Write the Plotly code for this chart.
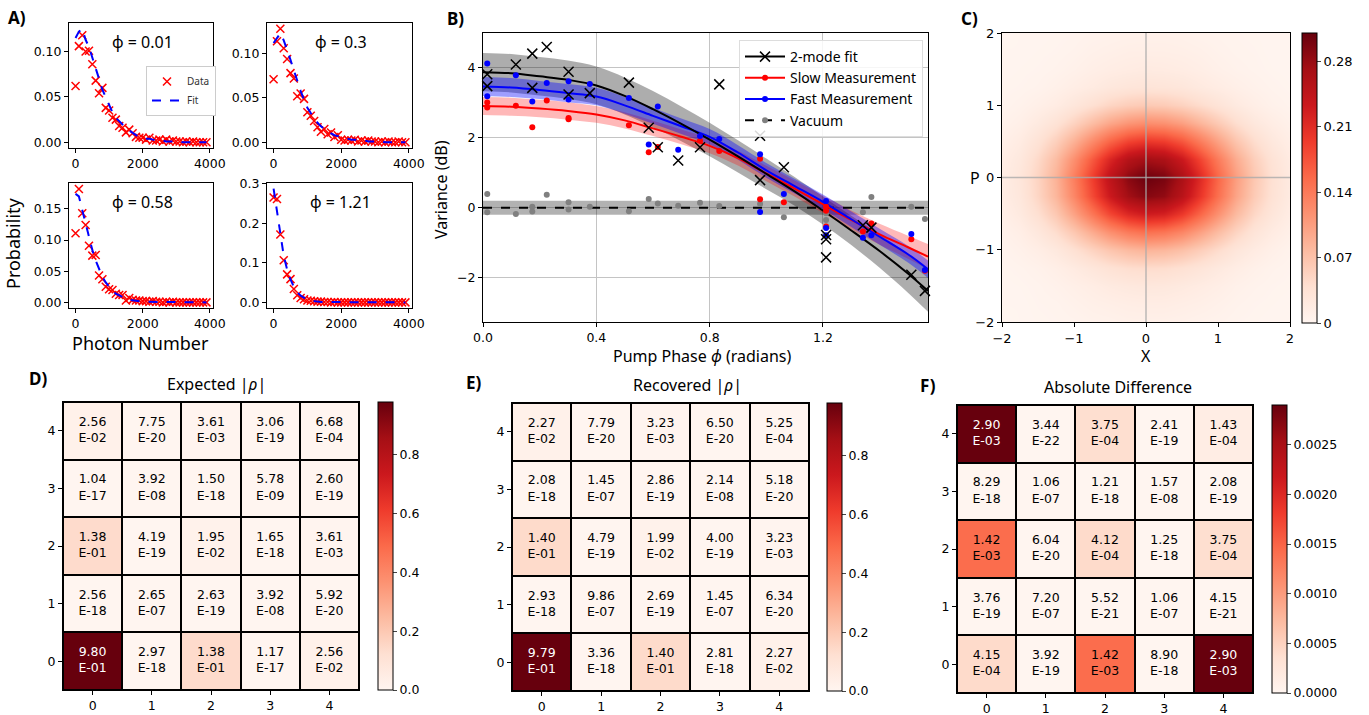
import plotly.graph_objects as go

W, H = 1369, 715

# ---------------- Panel A data ----------------
photon_n = list(range(0, 4000, 100))

a1_data = [0.062, 0.106, 0.118, 0.100, 0.101, 0.086, 0.068, 0.054, 0.060, 0.038,
           0.035, 0.027, 0.025, 0.018, 0.016, 0.011, 0.014, 0.010, 0.006, 0.005,
           0.005, 0.003, 0.005, 0.002, 0.002, 0.003, 0.001, 0.003, 0.001, 0.002,
           0.001, 0.001, 0.000, 0.001, 0.000, 0.001, 0.000, 0.000, 0.000, 0.000]
a1_fit = [0.115, 0.122, 0.125, 0.113, 0.105, 0.094, 0.083, 0.070, 0.058, 0.049,
          0.040, 0.033, 0.027, 0.023, 0.019, 0.016, 0.013, 0.010, 0.008, 0.006,
          0.005, 0.004, 0.004, 0.003, 0.002, 0.002, 0.002, 0.001, 0.001, 0.001,
          0.001, 0.001, 0.000, 0.000, 0.000, 0.000, 0.000, 0.000, 0.000, 0.000]

a2_data = [0.071, 0.114, 0.128, 0.106, 0.094, 0.078, 0.072, 0.052, 0.055, 0.049,
           0.034, 0.030, 0.024, 0.017, 0.012, 0.015, 0.009, 0.011, 0.006, 0.008,
           0.003, 0.002, 0.003, 0.002, 0.003, 0.001, 0.002, 0.001, 0.002, 0.001,
           0.001, 0.000, 0.001, 0.000, 0.001, 0.000, 0.000, 0.001, 0.000, 0.000]
a2_fit = [0.112, 0.118, 0.123, 0.115, 0.105, 0.093, 0.081, 0.069, 0.058, 0.048,
          0.039, 0.033, 0.027, 0.022, 0.018, 0.015, 0.012, 0.010, 0.008, 0.007,
          0.006, 0.005, 0.004, 0.003, 0.003, 0.002, 0.002, 0.002, 0.001, 0.001,
          0.001, 0.001, 0.001, 0.000, 0.000, 0.000, 0.000, 0.000, 0.000, 0.000]

a3_data = [0.111, 0.182, 0.143, 0.124, 0.091, 0.075, 0.076, 0.043, 0.037, 0.025,
           0.021, 0.020, 0.014, 0.012, 0.012, 0.003, 0.007, 0.004, 0.003, 0.003,
           0.002, 0.002, 0.001, 0.002, 0.001, 0.001, 0.000, 0.001, 0.000, 0.001,
           0.000, 0.000, 0.000, 0.000, 0.000, 0.000, 0.000, 0.000, 0.000, 0.000]
a3_fit = [0.174, 0.170, 0.148, 0.126, 0.104, 0.084, 0.067, 0.053, 0.041, 0.032,
          0.025, 0.019, 0.014, 0.011, 0.008, 0.006, 0.004, 0.003, 0.002, 0.002,
          0.001, 0.001, 0.001, 0.000, 0.000, 0.000, 0.000, 0.000, 0.000, 0.000,
          0.000, 0.000, 0.000, 0.000, 0.000, 0.000, 0.000, 0.000, 0.000, 0.000]

a4_data = [0.266, 0.262, 0.172, 0.107, 0.071, 0.059, 0.034, 0.018, 0.011, 0.008,
           0.005, 0.004, 0.003, 0.002, 0.002, 0.001, 0.001, 0.000, 0.001, 0.000,
           0.000, 0.000, 0.000, 0.000, 0.000, 0.000, 0.000, 0.000, 0.000, 0.000,
           0.000, 0.000, 0.000, 0.000, 0.000, 0.000, 0.000, 0.000, 0.000, 0.000]
a4_fit = [0.288, 0.235, 0.172, 0.118, 0.083, 0.058, 0.039, 0.026, 0.017, 0.011,
          0.007, 0.005, 0.003, 0.002, 0.001, 0.001, 0.000, 0.000, 0.000, 0.000,
          0.000, 0.000, 0.000, 0.000, 0.000, 0.000, 0.000, 0.000, 0.000, 0.000,
          0.000, 0.000, 0.000, 0.000, 0.000, 0.000, 0.000, 0.000, 0.000, 0.000]

a_phase_labels = ["ϕ = 0.01", "ϕ = 0.3", "ϕ = 0.58", "ϕ = 1.21"]

# ---------------- Panel B data ----------------
fit_phi = [0.0, 0.1, 0.2, 0.3, 0.4, 0.5, 0.6, 0.7, 0.8, 0.9, 1.0, 1.1, 1.2, 1.3, 1.4, 1.5, 1.5708]
fit_2mode = [3.88, 3.85, 3.76, 3.66, 3.50, 3.20, 2.82, 2.40, 1.95, 1.47, 0.97, 0.47, -0.08, -0.65, -1.24, -1.88, -2.38]
hw_2mode = [0.55, 0.55, 0.55, 0.55, 0.54, 0.53, 0.52, 0.50, 0.48, 0.46, 0.44, 0.41, 0.40, 0.42, 0.48, 0.55, 0.60]
fit_fast = [3.47, 3.44, 3.37, 3.28, 3.18, 2.93, 2.63, 2.33, 2.03, 1.58, 1.07, 0.62, 0.17, -0.33, -0.83, -1.33, -1.76]
hw_fast = [0.27, 0.27, 0.26, 0.26, 0.25, 0.24, 0.23, 0.22, 0.22, 0.21, 0.21, 0.21, 0.21, 0.22, 0.23, 0.24, 0.25]
fit_slow = [2.91, 2.89, 2.84, 2.77, 2.67, 2.50, 2.27, 2.03, 1.77, 1.42, 0.98, 0.55, 0.10, -0.35, -0.76, -1.13, -1.40]
hw_slow = [0.26, 0.26, 0.25, 0.25, 0.24, 0.23, 0.22, 0.21, 0.21, 0.21, 0.22, 0.23, 0.25, 0.27, 0.30, 0.33, 0.36]
vac_level = [0.0, 0.0]
vac_phi = [0.0, 1.5708]
vac_hw = [0.2, 0.2]

pts_2mode_phi = [0.015, 0.015, 0.116, 0.174, 0.174, 0.225, 0.302, 0.302, 0.377, 0.515, 0.585, 0.617, 0.689,
                 0.766, 0.834, 0.978, 0.978, 1.062, 1.211, 1.211, 1.211, 1.341, 1.371, 1.512, 1.560]
pts_2mode_v = [3.82, 3.48, 4.10, 4.41, 3.43, 4.60, 3.89, 3.24, 3.28, 3.58, 2.29, 1.73, 1.35,
               1.73, 3.53, 2.06, 0.79, 1.16, -0.78, -0.90, -1.42, -0.50, -0.57, -1.92, -2.38]
pts_slow_phi = [0.015, 0.015, 0.116, 0.174, 0.225, 0.302, 0.302, 0.515, 0.585, 0.617, 0.766, 0.834,
                0.978, 0.978, 1.062, 1.211, 1.211, 1.211, 1.341, 1.371, 1.512, 1.560]
pts_slow_v = [3.01, 2.87, 2.92, 2.30, 3.07, 2.57, 2.53, 2.36, 1.59, 1.74, 1.92, 1.62,
              1.40, 0.24, 0.16, 0.03, -0.09, -0.54, -0.68, -0.45, -0.90, -1.80]
pts_fast_phi = [0.015, 0.015, 0.116, 0.174, 0.225, 0.302, 0.302, 0.377, 0.515, 0.585, 0.617, 0.689,
                0.766, 0.834, 0.978, 0.978, 1.062, 1.211, 1.211, 1.211, 1.341, 1.371, 1.512, 1.560]
pts_fast_v = [4.13, 3.19, 3.79, 3.04, 3.57, 3.62, 3.10, 3.54, 3.14, 1.81, 2.90, 1.66,
              2.05, 1.97, 1.53, -0.12, 0.39, 0.19, -0.58, -0.79, -0.86, -0.79, -0.75, -1.78]
pts_vac_phi = [0.015, 0.015, 0.116, 0.174, 0.174, 0.225, 0.302, 0.302, 0.377, 0.515, 0.585, 0.617,
               0.689, 0.766, 0.834, 0.978, 1.062, 1.211, 1.211, 1.341, 1.371, 1.512, 1.560]
pts_vac_v = [0.39, -0.13, -0.18, 0.03, -0.11, 0.37, 0.16, -0.05, 0.03, -0.10, 0.25, 0.12,
             0.06, 0.14, 0.05, 0.11, -0.27, -0.16, -0.35, -0.13, 0.31, 0.03, -0.32]

# ---------------- Panel C data ----------------
wig_x = [-2.0, -1.75, -1.5, -1.25, -1.0, -0.75, -0.5, -0.25, 0.0, 0.25, 0.5, 0.75, 1.0, 1.25, 1.5, 1.75, 2.0]
wig_p = [-2.0, -1.75, -1.5, -1.25, -1.0, -0.75, -0.5, -0.25, 0.0, 0.25, 0.5, 0.75, 1.0, 1.25, 1.5, 1.75, 2.0]
wig_z = [
    [0.000, 0.001, 0.002, 0.003, 0.004, 0.006, 0.007, 0.009, 0.009, 0.009, 0.008, 0.006, 0.005, 0.003, 0.002, 0.001, 0.001],
    [0.001, 0.001, 0.003, 0.004, 0.007, 0.010, 0.012, 0.014, 0.015, 0.015, 0.013, 0.011, 0.008, 0.005, 0.003, 0.002, 0.001],
    [0.001, 0.002, 0.004, 0.007, 0.011, 0.015, 0.020, 0.023, 0.025, 0.024, 0.021, 0.017, 0.013, 0.008, 0.005, 0.003, 0.002],
    [0.002, 0.004, 0.007, 0.012, 0.019, 0.027, 0.035, 0.041, 0.043, 0.042, 0.037, 0.030, 0.022, 0.015, 0.009, 0.005, 0.003],
    [0.004, 0.008, 0.014, 0.023, 0.037, 0.052, 0.067, 0.078, 0.084, 0.081, 0.072, 0.058, 0.043, 0.028, 0.018, 0.010, 0.005],
    [0.007, 0.013, 0.025, 0.042, 0.065, 0.092, 0.119, 0.139, 0.149, 0.144, 0.128, 0.103, 0.076, 0.051, 0.031, 0.018, 0.010],
    [0.011, 0.021, 0.039, 0.064, 0.101, 0.142, 0.184, 0.214, 0.229, 0.223, 0.197, 0.158, 0.117, 0.078, 0.048, 0.028, 0.015],
    [0.015, 0.026, 0.050, 0.082, 0.128, 0.181, 0.233, 0.272, 0.291, 0.283, 0.251, 0.201, 0.149, 0.099, 0.061, 0.035, 0.019],
    [0.015, 0.028, 0.052, 0.086, 0.136, 0.191, 0.247, 0.288, 0.308, 0.299, 0.265, 0.213, 0.157, 0.105, 0.065, 0.037, 0.020],
    [0.014, 0.024, 0.046, 0.076, 0.119, 0.168, 0.217, 0.254, 0.271, 0.263, 0.233, 0.187, 0.138, 0.092, 0.057, 0.033, 0.018],
    [0.010, 0.018, 0.034, 0.056, 0.087, 0.123, 0.159, 0.186, 0.198, 0.192, 0.171, 0.137, 0.101, 0.067, 0.042, 0.024, 0.013],
    [0.006, 0.011, 0.021, 0.034, 0.053, 0.075, 0.097, 0.113, 0.121, 0.117, 0.104, 0.083, 0.062, 0.041, 0.025, 0.015, 0.008],
    [0.003, 0.006, 0.011, 0.017, 0.027, 0.038, 0.050, 0.058, 0.062, 0.060, 0.053, 0.043, 0.032, 0.021, 0.013, 0.007, 0.004],
    [0.002, 0.003, 0.005, 0.009, 0.014, 0.019, 0.025, 0.029, 0.031, 0.030, 0.027, 0.021, 0.016, 0.011, 0.007, 0.004, 0.002],
    [0.001, 0.002, 0.003, 0.005, 0.008, 0.012, 0.015, 0.017, 0.019, 0.018, 0.016, 0.013, 0.009, 0.006, 0.004, 0.002, 0.001],
    [0.001, 0.001, 0.002, 0.003, 0.005, 0.008, 0.010, 0.012, 0.012, 0.012, 0.011, 0.009, 0.006, 0.004, 0.003, 0.001, 0.001],
    [0.000, 0.001, 0.001, 0.002, 0.003, 0.005, 0.006, 0.007, 0.008, 0.008, 0.007, 0.005, 0.004, 0.003, 0.002, 0.001, 0.001],
]

# ---------------- Panels D/E/F data (rows: index 0 .. 4, bottom to top) ----------------
fock_idx = [0, 1, 2, 3, 4]
rho_expected = [
    [9.80e-01, 2.97e-18, 1.38e-01, 1.17e-17, 2.56e-02],
    [2.56e-18, 2.65e-07, 2.63e-19, 3.92e-08, 5.92e-20],
    [1.38e-01, 4.19e-19, 1.95e-02, 1.65e-18, 3.61e-03],
    [1.04e-17, 3.92e-08, 1.50e-18, 5.78e-09, 2.60e-19],
    [2.56e-02, 7.75e-20, 3.61e-03, 3.06e-19, 6.68e-04],
]
rho_recovered = [
    [9.79e-01, 3.36e-18, 1.40e-01, 2.81e-18, 2.27e-02],
    [2.93e-18, 9.86e-07, 2.69e-19, 1.45e-07, 6.34e-20],
    [1.40e-01, 4.79e-19, 1.99e-02, 4.00e-19, 3.23e-03],
    [2.08e-18, 1.45e-07, 2.86e-19, 2.14e-08, 5.18e-20],
    [2.27e-02, 7.79e-20, 3.23e-03, 6.50e-20, 5.25e-04],
]
rho_absdiff = [
    [4.15e-04, 3.92e-19, 1.42e-03, 8.90e-18, 2.90e-03],
    [3.76e-19, 7.20e-07, 5.52e-21, 1.06e-07, 4.15e-21],
    [1.42e-03, 6.04e-20, 4.12e-04, 1.25e-18, 3.75e-04],
    [8.29e-18, 1.06e-07, 1.21e-18, 1.57e-08, 2.08e-19],
    [2.90e-03, 3.44e-22, 3.75e-04, 2.41e-19, 1.43e-04],
]

# ---------------- styling helpers ----------------
REDS = [[0.0, 'rgb(255,245,240)'], [0.125, 'rgb(254,224,210)'], [0.25, 'rgb(252,187,161)'],
        [0.375, 'rgb(252,146,114)'], [0.5, 'rgb(251,106,74)'], [0.625, 'rgb(239,59,44)'],
        [0.75, 'rgb(203,24,29)'], [0.875, 'rgb(165,15,21)'], [1.0, 'rgb(103,0,13)']]
TICKF = dict(family="DejaVu Sans", size=12.5, color="black")
LABF = "Noto Sans"


def dx(l, r):
    return [l / W, r / W]


def dy(t, b):
    return [1 - b / H, 1 - t / H]


def ax(**kw):
    base = dict(showline=True, linecolor="black", linewidth=1, mirror=True, ticks="outside",
                ticklen=4, tickcolor="black", showgrid=False, zeroline=False, tickfont=TICKF,
                automargin=False)
    base.update(kw)
    return base


def note(x, y, text, size=16, angle=0, bold=False):
    return dict(x=x / W, y=1 - y / H, xref="paper", yref="paper", xanchor="center", yanchor="middle",
                text=(f"<b>{text}</b>" if bold else text), textangle=angle, showarrow=False,
                font=dict(family=LABF, size=size, color="black"))


fig = go.Figure()
layout = {}
annotations = []
shapes = []

# ---------------- Panel A ----------------
a_panels = [
    (a1_data, a1_fit, (69, 213, 23, 148), [-0.00625, 0.1315], 0.05, ".2f", a_phase_labels[0]),
    (a2_data, a2_fit, (267, 412, 23, 148), [-0.0064, 0.1345], 0.05, ".2f", a_phase_labels[1]),
    (a3_data, a3_fit, (69, 213, 183, 308), [-0.009, 0.1915], 0.05, ".2f", a_phase_labels[2]),
    (a4_data, a4_fit, (267, 412, 183, 308), [-0.0142, 0.3025], 0.1, ".1f", a_phase_labels[3]),
]
for i, (d, f, (l, r, t, b), yr, dt, fmt, lab) in enumerate(a_panels):
    k = i + 1
    xs = "x" if k == 1 else f"x{k}"
    ys = "y" if k == 1 else f"y{k}"
    fig.add_trace(go.Scatter(x=photon_n, y=d, mode="markers", xaxis=xs, yaxis=ys,
                             marker=dict(symbol="x-thin", size=8, color="red",
                                         line=dict(width=1.5, color="red")),
                             name="Data", showlegend=(k == 1), legend="legend", cliponaxis=False))
    fig.add_trace(go.Scatter(x=photon_n, y=f, mode="lines", xaxis=xs, yaxis=ys,
                             line=dict(color="blue", width=2, dash="dash"),
                             name="Fit", showlegend=(k == 1), legend="legend"))
    kx = "xaxis" if k == 1 else f"xaxis{k}"
    ky = "yaxis" if k == 1 else f"yaxis{k}"
    layout[kx] = ax(domain=dx(l, r), range=[-195, 4095], tickvals=[0, 2000, 4000], anchor=ys)
    layout[ky] = ax(domain=dy(t, b), range=yr, dtick=dt, tick0=0, tickformat=fmt, anchor=xs)
    annotations.append(note((l + r) / 2 + 1, t + 19, lab, size=16))

annotations.append(note(140, 343, "Photon Number", size=18))
annotations.append(note(13, 243, "Probability", size=18, angle=-90))

# ---------------- Panel B ----------------
XB, YB = "x5", "y5"


def band(center, hw, color):
    up = [c + h for c, h in zip(center, hw)]
    lo = [c - h for c, h in zip(center, hw)]
    fig.add_trace(go.Scatter(x=fit_phi, y=up, mode="lines", line=dict(width=0, shape="spline"),
                             xaxis=XB, yaxis=YB, showlegend=False, hoverinfo="skip"))
    fig.add_trace(go.Scatter(x=fit_phi, y=lo, mode="lines", line=dict(width=0, shape="spline"),
                             fill="tonexty", fillcolor=color,
                             xaxis=XB, yaxis=YB, showlegend=False, hoverinfo="skip"))


# vacuum band
vup = [c + h for c, h in zip(vac_level, vac_hw)]
vlo = [c - h for c, h in zip(vac_level, vac_hw)]
fig.add_trace(go.Scatter(x=vac_phi, y=vup, mode="lines", line=dict(width=0), xaxis=XB, yaxis=YB,
                         showlegend=False, hoverinfo="skip"))
fig.add_trace(go.Scatter(x=vac_phi, y=vlo, mode="lines", line=dict(width=0), fill="tonexty",
                         fillcolor="rgba(0,0,0,0.3)", xaxis=XB, yaxis=YB, showlegend=False, hoverinfo="skip"))

band(fit_2mode, hw_2mode, "rgba(0,0,0,0.32)")
band(fit_slow, hw_slow, "rgba(255,0,0,0.28)")
band(fit_fast, hw_fast, "rgba(0,0,255,0.38)")

fig.add_trace(go.Scatter(x=vac_phi, y=vac_level, mode="lines", line=dict(color="black", width=2, dash="dash"),
                         xaxis=XB, yaxis=YB, showlegend=False))
fig.add_trace(go.Scatter(x=fit_phi, y=fit_slow, mode="lines", line=dict(color="red", width=2, shape="spline"),
                         xaxis=XB, yaxis=YB, showlegend=False))
fig.add_trace(go.Scatter(x=fit_phi, y=fit_fast, mode="lines", line=dict(color="blue", width=2, shape="spline"),
                         xaxis=XB, yaxis=YB, showlegend=False))
fig.add_trace(go.Scatter(x=fit_phi, y=fit_2mode, mode="lines", line=dict(color="black", width=2, shape="spline"),
                         xaxis=XB, yaxis=YB, showlegend=False))

fig.add_trace(go.Scatter(x=pts_vac_phi, y=pts_vac_v, mode="markers", marker=dict(color="grey", size=6),
                         xaxis=XB, yaxis=YB, showlegend=False, cliponaxis=False))
fig.add_trace(go.Scatter(x=pts_slow_phi, y=pts_slow_v, mode="markers", marker=dict(color="red", size=6),
                         xaxis=XB, yaxis=YB, showlegend=False, cliponaxis=False))
fig.add_trace(go.Scatter(x=pts_fast_phi, y=pts_fast_v, mode="markers", marker=dict(color="blue", size=6),
                         xaxis=XB, yaxis=YB, showlegend=False, cliponaxis=False))
fig.add_trace(go.Scatter(x=pts_2mode_phi, y=pts_2mode_v, mode="markers",
                         marker=dict(symbol="x-thin", size=10, color="black", line=dict(width=1.5, color="black")),
                         xaxis=XB, yaxis=YB, showlegend=False, cliponaxis=False))

# legend entries for panel B
fig.add_trace(go.Scatter(x=[None], y=[None], mode="lines+markers", name="2-mode fit",
                         marker=dict(symbol="x-thin", size=10, color="black", line=dict(width=1.5, color="black")),
                         line=dict(color="black", width=2), xaxis=XB, yaxis=YB, legend="legend2"))
fig.add_trace(go.Scatter(x=[None], y=[None], mode="lines+markers", name="Slow Measurement",
                         marker=dict(color="red", size=6), line=dict(color="red", width=2),
                         xaxis=XB, yaxis=YB, legend="legend2"))
fig.add_trace(go.Scatter(x=[None], y=[None], mode="lines+markers", name="Fast Measurement",
                         marker=dict(color="blue", size=6), line=dict(color="blue", width=2),
                         xaxis=XB, yaxis=YB, legend="legend2"))
fig.add_trace(go.Scatter(x=[None], y=[None], mode="lines+markers", name="Vacuum",
                         marker=dict(color="grey", size=6), line=dict(color="black", width=2, dash="dash"),
                         xaxis=XB, yaxis=YB, legend="legend2"))

layout["xaxis5"] = ax(domain=dx(483, 928), range=[0, 1.5708], dtick=0.4, tick0=0, tickformat=".1f",
                      showgrid=True, gridcolor="#c4c4c4", gridwidth=1, anchor=YB)
layout["yaxis5"] = ax(domain=dy(33, 322), range=[-3.27, 5.0], dtick=2, tick0=0,
                      showgrid=True, gridcolor="#c4c4c4", gridwidth=1, anchor=XB)
annotations.append(note(702, 356, "Pump Phase <i>ϕ</i> (radians)", size=16))
annotations.append(note(441, 190, "Variance (dB)", size=16, angle=-90))

# ---------------- Panel C ----------------
fig.add_trace(go.Heatmap(x=wig_x, y=wig_p, z=wig_z, colorscale=REDS, zmin=0, zmax=0.31, zsmooth="best",
                         xaxis="x6", yaxis="y6",
                         colorbar=dict(x=1302 / W, xanchor="left", y=1 - 178 / H, yanchor="middle",
                                       len=290 / H, thickness=15, xpad=0, ypad=0,
                                       outlinecolor="black", outlinewidth=1, ticks="outside", ticklen=4,
                                       tickvals=[0, 0.07, 0.14, 0.21, 0.28],
                                       ticktext=["0", "0.07", "0.14", "0.21", "0.28"],
                                       tickfont=dict(family="DejaVu Sans", size=13, color="black"))))
layout["xaxis6"] = ax(domain=dx(1002, 1290), range=[-2, 2], dtick=1, anchor="y6",
                      tickfont=dict(family="DejaVu Sans", size=13, color="black"))
layout["yaxis6"] = ax(domain=dy(33, 322), range=[-2, 2], dtick=1, anchor="x6",
                      tickfont=dict(family="DejaVu Sans", size=13, color="black"))
shapes.append(dict(type="line", xref="x6", yref="y6 domain", x0=0, x1=0, y0=0, y1=1,
                   line=dict(color="rgba(170,170,170,0.8)", width=1.5), layer="above"))
shapes.append(dict(type="line", xref="x6 domain", yref="y6", x0=0, x1=1, y0=0, y1=0,
                   line=dict(color="rgba(170,170,170,0.8)", width=1.5), layer="above"))
annotations.append(note(1146, 356, "X", size=16))
annotations.append(note(975, 178, "P", size=16))

# ---------------- Panels D/E/F ----------------
heat_specs = [
    (rho_expected, 7, (63, 359, 402, 690), (378, 393), 0.98, [0, 0.2, 0.4, 0.6, 0.8], ".1f",
     "Expected |<i>ρ</i>|", 216),
    (rho_recovered, 8, (512, 809, 403, 691), (827, 842), 0.979, [0, 0.2, 0.4, 0.6, 0.8], ".1f",
     "Recovered |<i>ρ</i>|", 687),
    (rho_absdiff, 9, (957, 1253, 405, 693), (1272, 1287), 0.0029, [0, 0.0005, 0.001, 0.0015, 0.002, 0.0025],
     ".4f", "Absolute Difference", 1118),
]
for z, k, (l, r, t, b), (cl, cr), zmax, cticks, cfmt, title, tx in heat_specs:
    xs, ys = f"x{k}", f"y{k}"
    fig.add_trace(go.Heatmap(x=fock_idx, y=fock_idx, z=z, colorscale=REDS, zmin=0, zmax=zmax,
                             xgap=2, ygap=2, xaxis=xs, yaxis=ys, hoverinfo="skip",
                             colorbar=dict(x=cl / W, xanchor="left", y=1 - (t + b) / 2 / H, yanchor="middle",
                                           len=(b - t) / H, thickness=cr - cl, xpad=0, ypad=0,
                                           outlinecolor="black", outlinewidth=1, ticks="outside", ticklen=4,
                                           tickvals=cticks, tickformat=cfmt,
                                           tickfont=dict(family="DejaVu Sans", size=12.5, color="black"))))
    tx_x, tx_y, tx_t, tx_c = [], [], [], []
    for row in range(5):
        for col in range(5):
            v = z[row][col]
            m, e = f"{v:.2E}".split("E")
            tx_x.append(fock_idx[col])
            tx_y.append(fock_idx[row])
            tx_t.append(f"{m}<br>E{e}")
            tx_c.append("white" if v > 0.6 * zmax else "black")
    fig.add_trace(go.Scatter(x=tx_x, y=tx_y, text=tx_t, mode="text", xaxis=xs, yaxis=ys,
                             textfont=dict(family="DejaVu Sans", size=12.5, color=tx_c),
                             showlegend=False, hoverinfo="skip"))
    layout[f"xaxis{k}"] = ax(domain=dx(l, r), range=[-0.5, 4.5], tickvals=fock_idx, anchor=ys)
    layout[f"yaxis{k}"] = ax(domain=dy(t, b), range=[-0.5, 4.5], tickvals=fock_idx, anchor=xs)
    shapes.append(dict(type="rect", xref=f"{xs} domain", yref=f"{ys} domain", x0=0, x1=1, y0=0, y1=1,
                       fillcolor="black", line=dict(width=0), layer="below"))
    annotations.append(note(tx, t - 18, title, size=16))

# panel letters
for lab, cx, cy in [("A)", 17, 17), ("B)", 455, 19), ("C)", 970, 19),
                    ("D)", 38, 378), ("E)", 474, 382), ("F)", 928, 386)]:
    annotations.append(note(cx, cy, lab, size=17, bold=True))

fig.update_layout(
    width=W, height=H, margin=dict(l=0, r=0, t=0, b=0, autoexpand=False),
    paper_bgcolor="white", plot_bgcolor="white",
    annotations=annotations, shapes=shapes,
    legend=dict(x=146 / W, y=1 - 66 / H, xanchor="left", yanchor="top", bgcolor="white",
                bordercolor="#cccccc", borderwidth=1, font=dict(family=LABF, size=10, color="#333333"),
                itemwidth=30, tracegroupgap=0, traceorder="normal"),
    legend2=dict(x=739 / W, y=1 - 40 / H, xanchor="left", yanchor="top", bgcolor="rgba(255,255,255,0.85)",
                 bordercolor="#dddddd", borderwidth=1, font=dict(family=LABF, size=14, color="black"),
                 itemwidth=40, tracegroupgap=0, traceorder="normal"),
    **layout,
)

fig.write_html("out.html", config={"displayModeBar": False},
               post_script="document.body.style.margin='0px';document.body.style.overflow='hidden';")
